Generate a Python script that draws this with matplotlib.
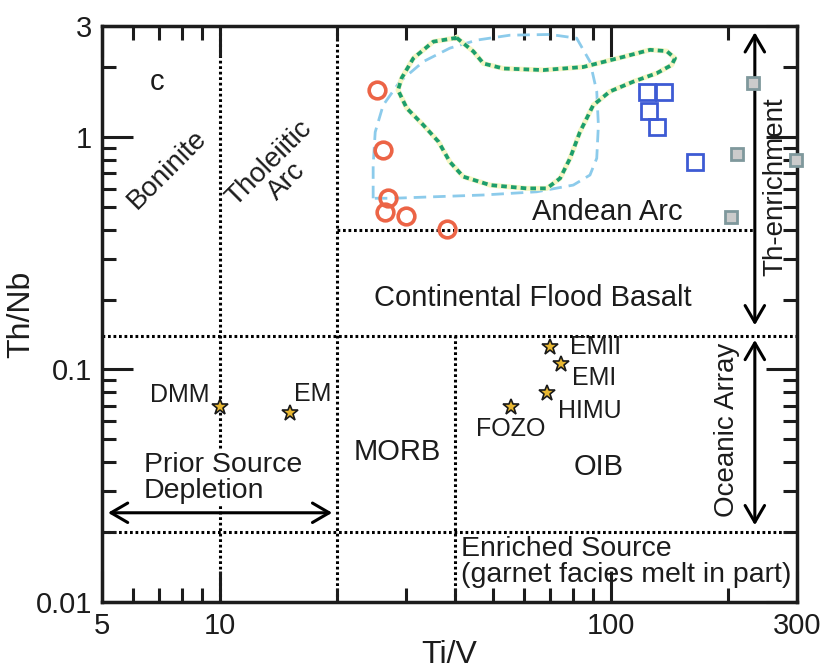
import matplotlib.pyplot as plt
from matplotlib.ticker import FixedLocator, LogLocator, NullFormatter

plt.rcParams['font.family'] = ['Liberation Sans', 'DejaVu Sans']

# samples (Ti/V, Th/Nb)
circle_tiv = [25.2, 26.1, 26.9, 26.5, 29.9, 38.1]
circle_thnb = [1.59, 0.878, 0.544, 0.477, 0.457, 0.404]

blue_tiv = [124.2, 136.9, 125.3, 131.3, 164.3]
blue_thnb = [1.565, 1.565, 1.295, 1.103, 0.782]

gray_tiv = [231.5, 210.8, 202.8, 299.1]
gray_thnb = [1.70, 0.844, 0.454, 0.80]

# mantle end-members
em_names = ['DMM', 'EM', 'EMII', 'EMI', 'HIMU', 'FOZO']
em_tiv = [10.0, 15.1, 70.0, 74.9, 68.8, 55.5]
em_thnb = [0.069, 0.065, 0.1245, 0.106, 0.0794, 0.069]
# label offsets in pixels and alignment
em_offset = [(-10, 12), (4, 19), (20, 0), (11, -14), (11, -18), (0, -22)]
em_ha = ['right', 'left', 'left', 'left', 'left', 'center']

# field outlines
green_tiv = [40.4, 44.6, 47.3, 53.2, 67.3, 85.2, 107.8, 126.2, 139.2, 146.2,
             143.4, 131.3, 114.4, 99.7, 90.3, 83.5, 78.8, 74.3, 68.7, 61.0,
             49.2, 42.0, 38.8, 36.3, 33.2, 30.1, 28.6, 29.2, 31.3, 35.2, 40.4]
green_thnb = [2.67, 2.33, 2.07, 1.97, 1.94, 2.00, 2.21, 2.37, 2.34, 2.18,
              2.04, 1.88, 1.73, 1.57, 1.37, 1.05, 0.81, 0.664, 0.601, 0.601,
              0.621, 0.675, 0.782, 0.954, 1.125, 1.33, 1.59, 1.79, 2.18, 2.57, 2.67]

blue_field_tiv = [24.7, 24.7, 25.0, 26.2, 28.9, 33.2, 38.8, 45.5, 55.3, 70.0,
                  81.9, 88.6, 92.2, 93.1, 92.2, 88.6, 80.3, 64.7, 47.3, 35.2,
                  27.8, 24.7]
blue_field_thnb = [0.545, 0.757, 1.05, 1.37, 1.73, 2.11, 2.41, 2.61, 2.74, 2.76,
                   2.66, 2.11, 1.57, 1.125, 0.81, 0.686, 0.621, 0.581, 0.563, 0.553,
                   0.545, 0.545]

# classification boundaries
tiv_lines = [10, 20]
tiv_oib = 40
thnb_arc = 0.4
thnb_lines = [0.14, 0.02]

tc = '#1c1c1c'

fig = plt.figure(figsize=(8.26, 6.71), dpi=100)
ax = fig.add_axes([0.1235, 0.1028, 0.8414, 0.8584])
ax.set_xscale('log')
ax.set_yscale('log')
ax.set_xlim(5, 300)
ax.set_ylim(0.01, 3)

dots = dict(color='black', lw=2.2, ls=(0, (0.9, 0.9)), zorder=1)
ax.vlines(tiv_lines, 0.01, 3, **dots)
ax.vlines(tiv_oib, 0.01, thnb_lines[0], **dots)
ax.hlines(thnb_lines, 5, 300, **dots)
ax.hlines(thnb_arc, 20, 234, **dots)

ax.plot(blue_field_tiv, blue_field_thnb, color='#8ccbeb', lw=2.0,
        dashes=(4.5, 2.5), zorder=2)
ax.plot(green_tiv, green_thnb, color='#f6f6c4', lw=3.6, zorder=2)
ax.plot(green_tiv, green_thnb, color='#1c9e6c', lw=2.7,
        dashes=(1.5, 1.1), zorder=3)

ax.plot(circle_tiv, circle_thnb, 'o', ms=12, mfc='none', mec='#ec6446',
        mew=2.6, zorder=5)
ax.plot(blue_tiv, blue_thnb, 's', ms=12, mfc='none', mec='#3d5bd4',
        mew=2.0, zorder=5)
ax.plot(gray_tiv, gray_thnb, 's', ms=9, mfc='#cbcbcb', mec='#7f989c',
        mew=2.0, zorder=5, clip_on=False)
ax.plot(em_tiv, em_thnb, '*', ms=12, mfc='#e9b832', mec='#1a1a1a',
        mew=1.2, zorder=5)

for name, x, y, off, ha in zip(em_names, em_tiv, em_thnb, em_offset, em_ha):
    ax.annotate(name, (x, y), xytext=off, textcoords='offset pixels',
                ha=ha, va='center', fontsize=18, color=tc)

ax.text(6.9, 1.72, 'c', fontsize=21, ha='center', va='center', color=tc)
ax.text(7.33, 0.72, 'Boninite', fontsize=20, rotation=45, ha='center',
        va='center', rotation_mode='anchor', color=tc)
ax.text(14.1, 0.707, 'Tholeiitic\nArc', fontsize=20, rotation=45,
        ha='center', va='center', rotation_mode='anchor', linespacing=1.0,
        multialignment='center', color=tc)
ax.text(97.9, 0.476, 'Andean Arc', fontsize=21, ha='center', va='center', color=tc)
ax.text(63.4, 0.203, 'Continental Flood Basalt', fontsize=21, ha='center',
        va='center', color=tc)
ax.text(28.4, 0.0442, 'MORB', fontsize=21, ha='center', va='center', color=tc)
ax.text(93.4, 0.0381, 'OIB', fontsize=21, ha='center', va='center', color=tc)
ax.text(6.4, 0.0341, 'Prior Source\nDepletion', fontsize=20.5, ha='left',
        va='center', linespacing=1.0, color=tc,
        bbox=dict(fc='white', ec='none', pad=1))
ax.text(41.5, 0.01486, 'Enriched Source\n(garnet facies melt in part)',
        fontsize=20.5, ha='left', va='center', linespacing=1.0, color=tc)
ax.text(263.6, 0.609, 'Th-enrichment', fontsize=20, rotation=90,
        ha='center', va='center', color=tc)
ax.text(198.6, 0.0549, 'Oceanic Array', fontsize=20, rotation=90,
        ha='center', va='center', color=tc)

arrow = dict(arrowstyle='<->,head_length=0.6,head_width=0.35', lw=2.2,
             color='black', shrinkA=0, shrinkB=0, mutation_scale=20)
ax.annotate('', xy=(5.18, 0.0242), xytext=(19.4, 0.0242), arrowprops=arrow)
ax.annotate('', xy=(234, 2.82), xytext=(234, 0.155), arrowprops=arrow)
ax.annotate('', xy=(234, 0.134), xytext=(234, 0.0214), arrowprops=arrow)

ax.xaxis.set_major_locator(FixedLocator([5, 10, 100, 300]))
ax.set_xticklabels(['5', '10', '100', '300'])
ax.yaxis.set_major_locator(FixedLocator([0.01, 0.1, 1, 3]))
ax.set_yticklabels(['0.01', '0.1', '1', '3'])
ax.xaxis.set_minor_locator(LogLocator(subs=range(2, 10)))
ax.yaxis.set_minor_locator(LogLocator(subs=range(2, 10)))
ax.xaxis.set_minor_formatter(NullFormatter())
ax.yaxis.set_minor_formatter(NullFormatter())

ax.tick_params(which='both', direction='in', top=True, right=True,
               width=2.2, colors=tc, labelsize=21)
ax.tick_params(which='major', length=22, pad=7)
ax.tick_params(which='minor', length=10)
for s in ax.spines.values():
    s.set_linewidth(2.5)
    s.set_color(tc)

ax.set_xlabel('Ti/V', fontsize=23, labelpad=0, color=tc)
ax.set_ylabel('Th/Nb', fontsize=23, labelpad=0, color=tc)

fig.savefig('out.png', dpi=100)
